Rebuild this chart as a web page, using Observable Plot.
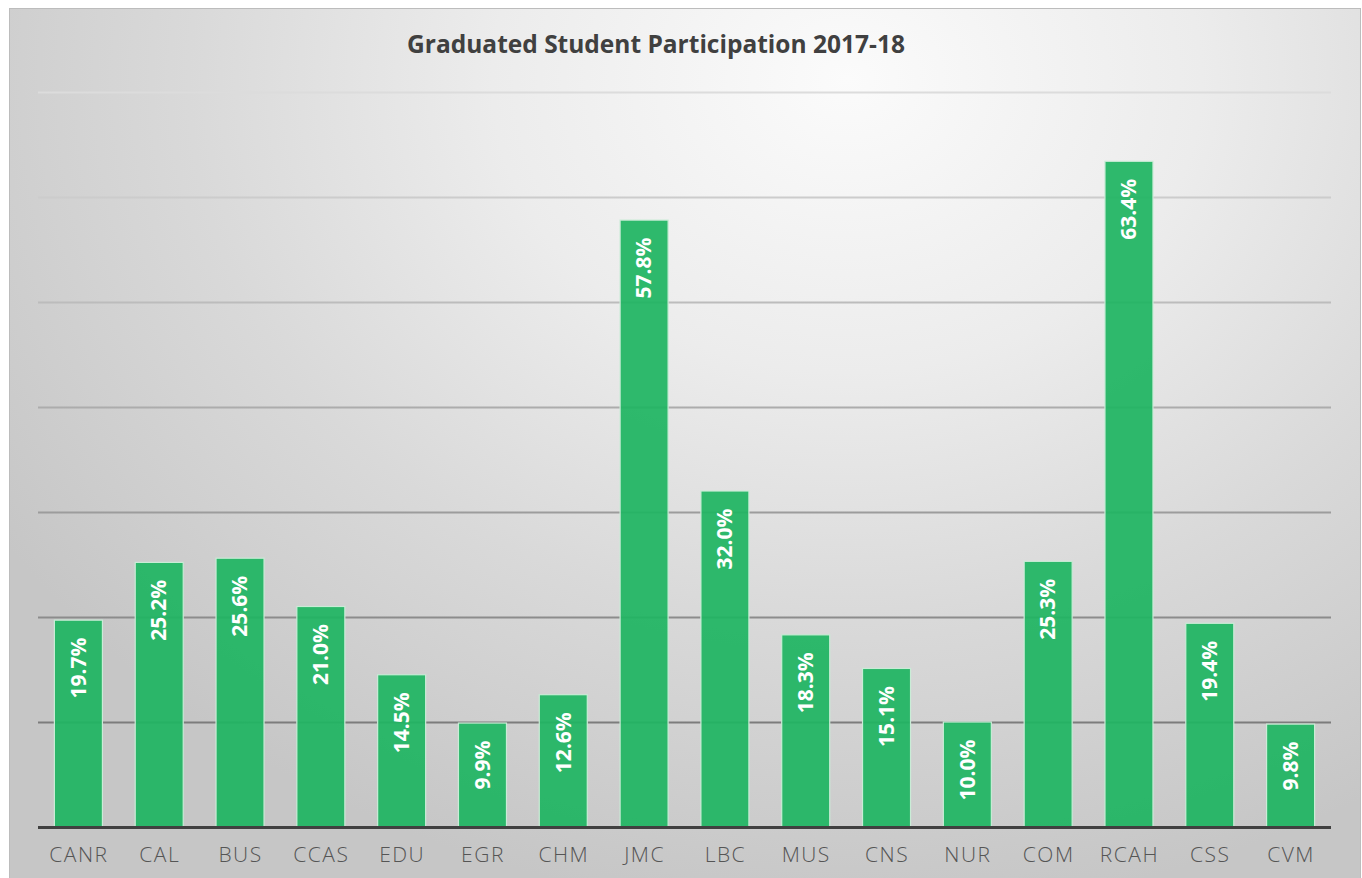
<!DOCTYPE html>
<html>
<head>
<meta charset="utf-8">
<script src="https://cdn.jsdelivr.net/npm/d3@7"></script>
<script src="https://cdn.jsdelivr.net/npm/@observablehq/plot@0.6"></script>
<style>
  html, body { margin: 0; padding: 0; background: #ffffff; overflow: hidden; width: 1362px; height: 878px; }
  #frame {
    position: absolute; left: 9px; top: 8px; width: 1350px; height: 880px;
    border: 1px solid #bcbcbc;
    background: radial-gradient(ellipse 75% 95% at 62% 8%, #fbfbfb 0%, #ececec 35%, #d9d9d9 65%, #c6c6c6 100%);
  }
  #title {
    position: absolute; left: 0; top: 27px; width: 1312px; text-align: center;
    font-family: "Open Sans", Roboto, sans-serif; font-weight: 700; font-size: 24.5px;
    color: #404040;
  }
  #chart { position: absolute; left: 0; top: 80px; }
</style>
</head>
<body>
<div id="frame"></div>
<div id="title">Graduated Student Participation 2017-18</div>
<div id="chart"></div>
<script>
const categories = ["CANR","CAL","BUS","CCAS","EDU","EGR","CHM","JMC","LBC","MUS","CNS","NUR","COM","RCAH","CSS","CVM"];
const values = [19.7, 25.2, 25.6, 21.0, 14.5, 9.9, 12.6, 57.8, 32.0, 18.3, 15.1, 10.0, 25.3, 63.4, 19.4, 9.8];
const gridValues = [10, 20, 30, 40, 50, 60, 70];

const data = categories.map((c, i) => ({category: c, value: values[i]}));
const gridColor = d3.scaleLinear().domain([10, 70]).range(["#7c7c7c", "#dcdcdc"]);

const chart = Plot.plot({
  width: 1362,
  height: 798,
  marginLeft: 38,
  marginRight: 31,
  marginTop: 12,
  marginBottom: 51,
  style: {background: "transparent", fontFamily: "'Open Sans', sans-serif"},
  x: {domain: categories, paddingInner: 0.406, paddingOuter: 0.203, round: false, label: null},
  y: {domain: [0, 70], axis: null},
  marks: [
    Plot.ruleY(gridValues, {stroke: d => gridColor(d), strokeWidth: 2}),
    Plot.barY(data, {x: "category", y: "value", fill: "#1fb562", fillOpacity: 0.93, stroke: "#c9ecd6", strokeWidth: 1.2, inset: 0}),
    Plot.ruleY([0], {stroke: "#404040", strokeWidth: 3}),
    Plot.text(data, {x: "category", y: "value", text: d => d.value.toFixed(1) + "%", rotate: -90, textAnchor: "end", lineAnchor: "middle", dy: 17, fill: "white", fontWeight: 700, fontSize: 21}),
    Plot.axisX({tickSize: 0, tickPadding: 20, fontSize: 21, fontWeight: 300, fill: "#555555", label: null})
  ]
});
d3.select(chart).selectAll("[aria-label='x-axis tick label'] text").attr("letter-spacing", "1.5px");
document.getElementById("chart").appendChild(chart);
</script>
</body>
</html>
